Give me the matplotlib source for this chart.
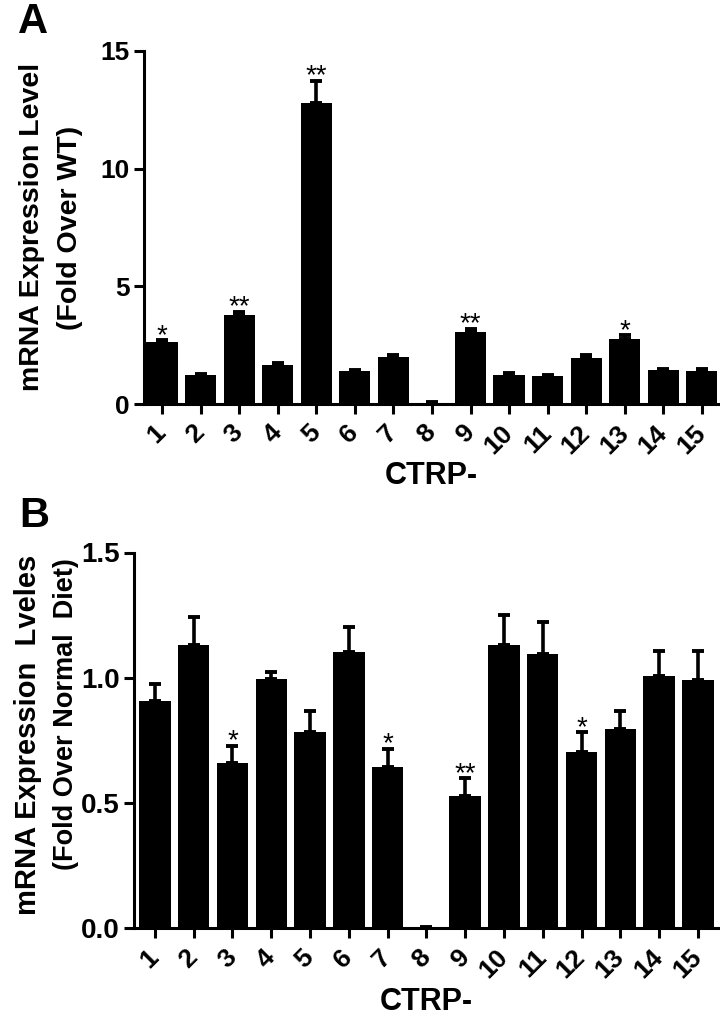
import matplotlib
matplotlib.use("Agg")
import matplotlib.pyplot as plt
import numpy as np

plt.rcParams['font.family'] = ['Liberation Sans', 'DejaVu Sans']

# ---- data ----
categories = [str(i) for i in range(1, 16)]
a_values = [2.64, 1.22, 3.77, 1.66, 12.78, 1.39, 2.00, 0.02, 3.06, 1.22, 1.18, 1.96, 2.78, 1.45, 1.42]
a_errors = [0.08, 0.05, 0.15, 0.10, 0.96, 0.07, 0.10, 0.08, 0.14, 0.10, 0.04, 0.11, 0.14, 0.05, 0.07]
a_stars = ['*', '', '**', '', '**', '', '', '', '**', '', '', '', '*', '', '']
a_yticks = [0, 5, 10, 15]

b_values = [0.907, 1.13, 0.658, 0.994, 0.784, 1.103, 0.645, 0.0, 0.528, 1.13, 1.094, 0.704, 0.794, 1.008, 0.993]
b_errors = [0.070, 0.113, 0.070, 0.028, 0.083, 0.100, 0.071, 0.004, 0.070, 0.120, 0.130, 0.079, 0.073, 0.100, 0.115]
b_stars = ['', '', '*', '', '', '', '*', '', '**', '', '', '*', '', '', '']
b_yticks = [0.0, 0.5, 1.0, 1.5]

W, H = 720, 1016
fig = plt.figure(figsize=(W / 100, H / 100), dpi=100)

def px_ax(l, t, r, b):
    return fig.add_axes([l / W, 1 - b / H, (r - l) / W, (b - t) / H])

axA = px_ax(143.5, 51, 720, 404)
axB = px_ax(133.5, 552.5, 720, 928.3)

def draw(ax, values, errors, stars, yticks, ylim, xlim, yfmt, yfs):
    x = np.arange(1, len(values) + 1)
    ax.bar(x, values, width=0.81, color='black', edgecolor='none', zorder=2)
    ax.errorbar(x, values, yerr=[np.zeros(len(values)), errors], fmt='none',
                ecolor='black', elinewidth=2.6, capsize=4.6, capthick=2.8, zorder=3)
    for xi, v, e, s in zip(x, values, errors, stars):
        if s:
            ax.annotate(s, (xi, v + e), xytext=(0, -2), textcoords='offset points',
                        ha='center', va='baseline', fontsize=20, fontweight='normal')
    ax.set_xlim(*xlim)
    ax.set_ylim(*ylim)
    ax.set_xticks(x)
    ax.set_xticklabels(categories, rotation=45, ha='right', va='center',
                       rotation_mode='anchor', fontsize=19, fontweight='bold')
    ax.set_yticks(yticks)
    ax.set_yticklabels([yfmt.format(t) for t in yticks], fontsize=yfs, fontweight='bold')
    for side in ['top', 'right']:
        ax.spines[side].set_visible(False)
    for side in ['left', 'bottom']:
        ax.spines[side].set_linewidth(2.2)
    ax.tick_params(axis='both', direction='out', width=2.2, length=7, pad=3)
    ax.tick_params(axis='x', pad=11)
    ax.spines['left'].set_bounds(ylim[0], ylim[1])

draw(axA, a_values, a_errors, a_stars, a_yticks, (0, 15), (0.52, 15.47), '{:d}', 19)
draw(axB, b_values, b_errors, b_stars, b_yticks, (0, 1.5), (0.448, 15.57), '{:.1f}', 20)

# panel letters
fig.text(18 / W, 1 - 33 / H, 'A', fontsize=30, fontweight='bold', ha='left', va='baseline')
fig.text(19 / W, 1 - 527 / H, 'B', fontsize=30, fontweight='bold', ha='left', va='baseline')

# x labels
fig.text((143.5 + 720) / 2 / W, 1 - 484 / H, 'CTRP-', fontsize=22, fontweight='bold',
         ha='center', va='baseline')
fig.text((133.5 + 720) / 2 / W, 1 - 1010 / H, 'CTRP-', fontsize=22, fontweight='bold',
         ha='center', va='baseline')

# y labels (panel A)
fig.text(32 / W, 1 - 227 / H, 'mRNA Expression Level', rotation=90,
         fontsize=20.5, fontweight='bold', ha='center', va='center')
fig.text(70 / W, 1 - 228 / H, '(Fold Over WT)', rotation=90,
         fontsize=20.5, fontweight='bold', ha='center', va='center')
# y labels (panel B)
fig.text(28 / W, 1 - 555 / H, 'mRNA Expression  Lveles', rotation=90,
         fontsize=21, fontweight='bold', ha='center', va='top')
fig.text(66 / W, 1 - 558 / H, '(Fold Over Normal  Diet)', rotation=90,
         fontsize=19.5, fontweight='bold', ha='center', va='top')

fig.savefig('out.png', dpi=100)
